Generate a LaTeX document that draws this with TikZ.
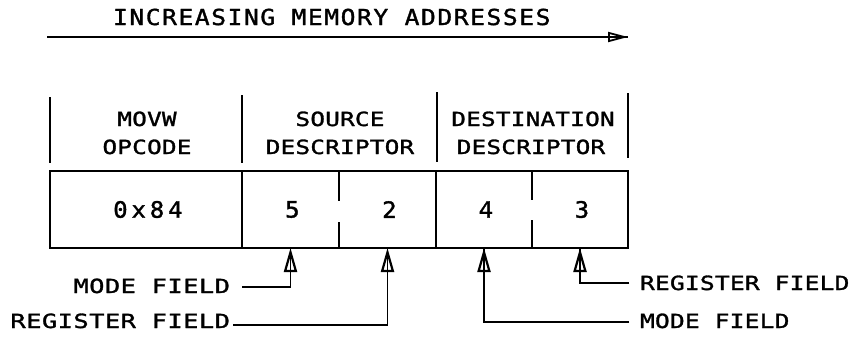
\documentclass[tikz,border=0pt]{standalone}
\usepackage{fontspec}
\usetikzlibrary{arrows.meta}
% Stencil-like lettering: a widened monospaced sans
\newfontfamily\ttlfont[FakeStretch=1.12,FakeBold=1.5,LetterSpace=7]{DejaVu Sans Mono}
\newfontfamily\hdrfont[FakeStretch=1.25,FakeBold=1.5,LetterSpace=1]{DejaVu Sans Mono}
\newfontfamily\lblfont[FakeStretch=1.26,FakeBold=1.5,LetterSpace=1]{DejaVu Sans Mono}
\newfontfamily\lblwfont[FakeStretch=1.3,FakeBold=1.5,LetterSpace=2.5]{DejaVu Sans Mono}
\newfontfamily\digfont[FakeStretch=1.07,FakeBold=1.5,LetterSpace=17]{DejaVu Sans Mono}
% tracking adds space after the last letter too; this balances centred digits
\newcommand\dk{\kern3.8pt}

\begin{document}
\begin{tikzpicture}[x=1pt,y=-1pt,
  every node/.style={inner sep=0pt,outer sep=0pt},
  ttl/.style={font=\ttlfont\fontsize{22}{26}\selectfont,anchor=base west},
  hdr/.style={font=\hdrfont\fontsize{19.5}{23}\selectfont,anchor=base},
  lbl/.style={font=\lblfont\fontsize{19.5}{23}\selectfont,anchor=base west},
  lblw/.style={font=\lblwfont\fontsize{19.5}{23}\selectfont,anchor=base east},
  cellbox/.style={minimum height=77pt,font=\digfont\fontsize{22.5}{26}\selectfont},
  boxline/.style={line width=1.8pt},
  divline/.style={line width=1.6pt},
  addrarrow/.style={line width=1.4pt,-{Triangle[open,length=20pt,width=10pt,line width=1.8pt]},
    postaction={draw,-}},
  fieldarrow/.style={line width=1.5pt,-{Triangle[open,length=24pt,width=13pt,line width=2.2pt]},
    postaction={draw,-}},
]
\useasboundingbox (0,0) rectangle (856,341);

% direction of increasing addresses
\node[ttl] (addr) at (113,25) {INCREASING MEMORY ADDRESSES};
\coordinate (aL) at (47,37);
\coordinate (aR) at (628,37);
\draw[addrarrow] (aL) -- (aR);

% column headings
\draw[divline] (50,97) -- (50,163);
\draw[divline] (242,95) -- (242,163);
\draw[divline] (437,92) -- (437,162);
\draw[divline] (628,93) -- (628,158);
\node[hdr] (movw)   at (147,126) {MOVW};
\node[hdr] (opcode) at (147,154) {OPCODE};
\node[hdr] (srcA)   at (340,126) {SOURCE};
\node[hdr] (srcB)   at (340,154) {DESCRIPTOR};
\node[hdr] (dstA)   at (533,126) {DESTINATION};
\node[hdr] (dstB)   at (531,154) {DESCRIPTOR};

% instruction bytes
\node[cellbox,minimum width=192pt] (opc) at (146,209.5) {\dk 0x84};
\node[cellbox,minimum width=97pt]  (m5)  at (290.5,209.5) {\dk 5};
\node[cellbox,minimum width=97pt]  (r2)  at (387.5,209.5) {\dk 2};
\node[cellbox,minimum width=96pt]  (m4)  at (484,209.5) {\dk 4};
\node[cellbox,minimum width=96pt]  (r3)  at (580,209.5) {\dk 3};

\draw[boxline] (opc.north west) rectangle (r3.south east);
\draw[boxline] (opc.north east) -- (opc.south east);
\draw[boxline] (m4.north west) -- (m4.south west);
% nibble boundaries, broken around the digits
\draw[boxline] (m5.north east) -- ++(0,30);
\draw[boxline] (m5.south east) -- ++(0,-26);
\draw[boxline] (m4.north east) -- ++(0,29);
\draw[boxline] (m4.south east) -- ++(0,-28);

% field labels
\node[lblw] (lmode) at (230,293) {MODE FIELD};
\node[lblw] (lreg)  at (230,328) {REGISTER FIELD};
\node[lbl]  (rreg)  at (640,290) {REGISTER FIELD};
\node[lbl]  (rmode) at (640,328) {MODE FIELD};

\coordinate (lmodeT) at (242,287);
\coordinate (lregT)  at (233,325);
\coordinate (rregT)  at (629,283);
\coordinate (rmodeT) at (629,322);
\draw[fieldarrow] (lmodeT) -| (m5.south);
\draw[fieldarrow] (lregT)  -| (r2.south);
\draw[fieldarrow] (rregT)  -| (r3.south);
\draw[fieldarrow] (rmodeT) -| (m4.south);
\end{tikzpicture}
\end{document}
